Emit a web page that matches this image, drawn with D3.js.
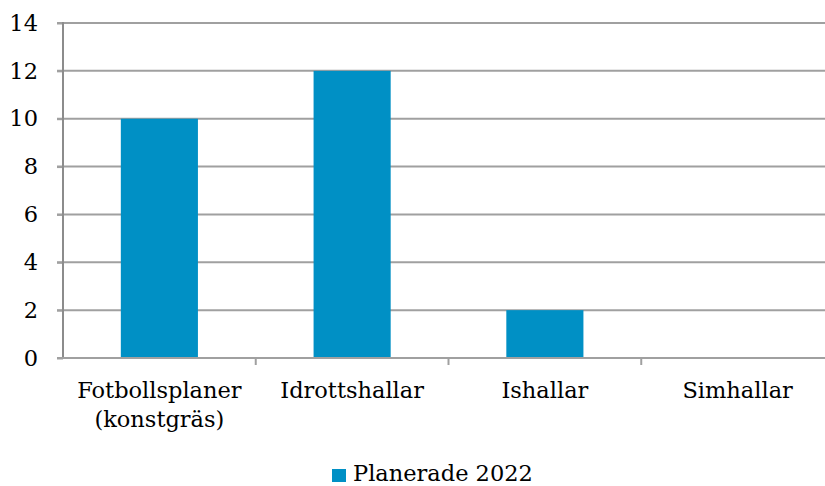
<!DOCTYPE html>
<html>
<head>
<meta charset="utf-8">
<script src="https://cdn.jsdelivr.net/npm/d3@7"></script>
<style>
  body { margin: 0; background: #fff; }
  text { font-family: Georgia, 'DejaVu Serif', serif; fill: #000; }
</style>
</head>
<body>
<div class="chart"></div>
<script>
// data
const categories = ['Fotbollsplaner\n(konstgräs)', 'Idrottshallar', 'Ishallar', 'Simhallar']
const values = [10, 12, 2, 0]
const yTicks = [0, 2, 4, 6, 8, 10, 12, 14]
const seriesName = 'Planerade 2022'

const fullWidth = 825
const fullHeight = 486
const margin = { top: 23, left: 63, bottom: 128 }
const plotRight = 834 // band area runs slightly past the edge
const fontSize = '22.5px'

const svg = d3.select('.chart')
  .append('svg')
    .attr('width', fullWidth)
    .attr('height', fullHeight)

const yScale = d3.scaleLinear()
  .domain([0, 14])
  .range([fullHeight - margin.bottom, margin.top])

const xScale = d3.scaleBand()
  .domain(categories)
  .range([margin.left, plotRight])
  .paddingInner(0.6)
  .paddingOuter(0.3)

// gridlines
svg.append('g')
  .selectAll('line')
  .data(yTicks.filter(d => d > 0))
  .enter()
  .append('line')
    .attr('x1', margin.left - 6)
    .attr('x2', fullWidth)
    .attr('y1', d => yScale(d))
    .attr('y2', d => yScale(d))
    .style('stroke', '#a0a0a0')
    .style('stroke-width', 2)

// bars
svg.append('g')
  .selectAll('rect')
  .data(values)
  .enter()
  .append('rect')
    .attr('x', (d, i) => xScale(categories[i]))
    .attr('width', xScale.bandwidth())
    .attr('y', d => yScale(d))
    .attr('height', d => yScale(0) - yScale(d))
    .style('fill', '#0090c5')

// y axis
const yAxis = d3.axisLeft(yScale)
  .tickValues(yTicks)
  .tickSize(6)
  .tickPadding(19)
const gy = svg.append('g')
  .attr('transform', `translate(${margin.left}, 0)`)
  .call(yAxis)
gy.select('.domain').remove()
gy.selectAll('.tick line').style('stroke', '#a0a0a0').style('stroke-width', 2)
gy.selectAll('.tick text')
  .style('font-size', fontSize)
  .style('font-family', "Georgia, 'DejaVu Serif', serif")
gy.append('line')
  .attr('x1', 0).attr('x2', 0)
  .attr('y1', yScale(14) - 1).attr('y2', yScale(0) + 1)
  .style('stroke', '#8c8c8c')
  .style('stroke-width', 2)

// x axis
const boundaries = d3.range(1, categories.length).map(i => margin.left + i * (plotRight - margin.left) / categories.length)
svg.append('line')
  .attr('x1', margin.left - 6).attr('x2', fullWidth)
  .attr('y1', yScale(0)).attr('y2', yScale(0))
  .style('stroke', '#a0a0a0')
  .style('stroke-width', 2)
svg.append('g')
  .selectAll('line')
  .data(boundaries)
  .enter()
  .append('line')
    .attr('x1', d => d).attr('x2', d => d)
    .attr('y1', yScale(0)).attr('y2', yScale(0) + 7)
    .style('stroke', '#a0a0a0')
    .style('stroke-width', 2)

const labels = svg.append('g')
  .selectAll('text')
  .data(categories)
  .enter()
  .append('text')
    .attr('text-anchor', 'middle')
    .attr('x', d => xScale(d) + xScale.bandwidth() / 2)
    .attr('y', 398)
    .style('font-size', fontSize)
labels.selectAll('tspan')
  .data(d => d.split('\n'))
  .enter()
  .append('tspan')
    .attr('x', function () { return d3.select(this.parentNode).attr('x') })
    .attr('dy', (d, i) => i === 0 ? 0 : 29)
    .text(d => d)

// legend
const legend = svg.append('g').attr('transform', 'translate(332, 469)')
legend.append('rect')
  .attr('width', 14).attr('height', 13)
  .style('fill', '#0090c5')
legend.append('text')
  .attr('x', 21).attr('y', 12)
  .style('font-size', fontSize)
  .text(seriesName)
</script>
</body>
</html>
